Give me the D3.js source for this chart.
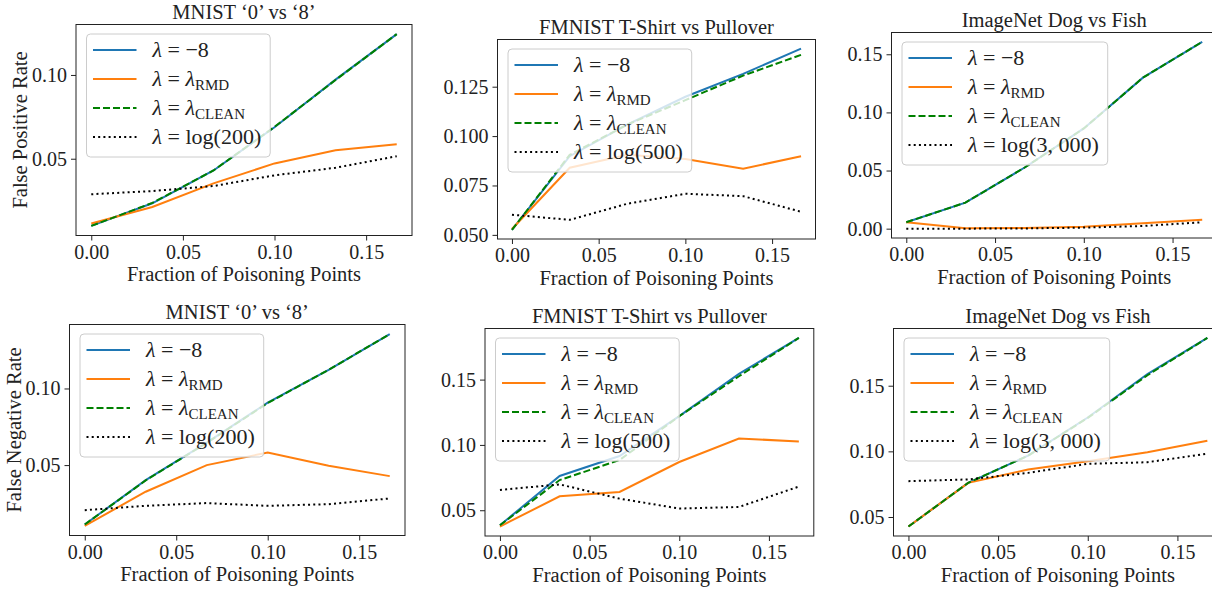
<!DOCTYPE html>
<html>
<head>
<meta charset="utf-8">
<script src="https://cdn.jsdelivr.net/npm/d3@7"></script>
<style>
  body { margin: 0; background: #fff; }
  svg text { font-family: "Liberation Serif", "Times New Roman", serif !important; }
</style>
</head>
<body>
<script>
// x values: fraction of poisoning points
var fractions = [0, 0.0333, 0.0667, 0.1, 0.1333, 0.1667];

// top row: false positive rate
var mnistFprNeg8  = [0.0099, 0.0234, 0.0430, 0.0688, 0.0972, 0.1244];
var mnistFprRmd   = [0.0113, 0.0212, 0.0353, 0.0472, 0.0551, 0.0587];
var mnistFprClean = [0.0099, 0.0236, 0.0430, 0.0690, 0.0970, 0.1244];
var mnistFprLog   = [0.0288, 0.0307, 0.0337, 0.0401, 0.0446, 0.0515];

var fmnistFprNeg8  = [0.0525, 0.0898, 0.1059, 0.1199, 0.1315, 0.1443];
var fmnistFprRmd   = [0.0530, 0.0840, 0.0906, 0.0884, 0.0835, 0.0898];
var fmnistFprClean = [0.0525, 0.0905, 0.1059, 0.1182, 0.1306, 0.1411];
var fmnistFprLog   = [0.0602, 0.0576, 0.0658, 0.0708, 0.0696, 0.0617];

var imagenetFprNeg8  = [0.0055, 0.0224, 0.0526, 0.0862, 0.1299, 0.1607];
var imagenetFprRmd   = [0.0055, 0.0003, 0.0005, 0.0017, 0.0046, 0.0077];
var imagenetFprClean = [0.0055, 0.0224, 0.0526, 0.0862, 0.1299, 0.1607];
var imagenetFprLog   = [0.0000, 0.0000, 0.0002, 0.0009, 0.0023, 0.0055];

// bottom row: false negative rate
var mnistFnrNeg8  = [0.0112, 0.0402, 0.0647, 0.0908, 0.1122, 0.1355];
var mnistFnrRmd   = [0.0103, 0.0326, 0.0500, 0.0582, 0.0496, 0.0428];
var mnistFnrClean = [0.0112, 0.0400, 0.0645, 0.0905, 0.1122, 0.1355];
var mnistFnrLog   = [0.0206, 0.0234, 0.0252, 0.0234, 0.0245, 0.0282];

var fmnistFnrNeg8  = [0.0385, 0.0762, 0.0915, 0.1220, 0.1544, 0.1819];
var fmnistFnrRmd   = [0.0375, 0.0607, 0.0640, 0.0869, 0.1049, 0.1027];
var fmnistFnrClean = [0.0385, 0.0731, 0.0884, 0.1220, 0.1526, 0.1819];
var fmnistFnrLog   = [0.0655, 0.0698, 0.0589, 0.0513, 0.0525, 0.0681];

var imagenetFnrNeg8  = [0.0427, 0.0760, 0.0967, 0.1258, 0.1589, 0.1864];
var imagenetFnrRmd   = [0.0427, 0.0760, 0.0861, 0.0924, 0.0993, 0.1081];
var imagenetFnrClean = [0.0427, 0.0760, 0.0967, 0.1255, 0.1580, 0.1864];
var imagenetFnrLog   = [0.0773, 0.0786, 0.0836, 0.0905, 0.0917, 0.0983];

// tick labels
var xTicks = [0, 0.05, 0.10, 0.15];
var titles = ["MNIST ‘0’ vs ‘8’", "FMNIST T-Shirt vs Pullover", "ImageNet Dog vs Fish"];
var logLabels = ["log(200)", "log(500)", "log(3, 000)"];
var yLabels = ["False Positive Rate", "False Negative Rate"];

var panels = [
  { title: titles[0], ylabel: yLabels[0], log: logLabels[0], yTicks: [0.05, 0.10], fmt: ".2f",
    series: [mnistFprNeg8, mnistFprRmd, mnistFprClean, mnistFprLog] },
  { title: titles[1], ylabel: null, log: logLabels[1], yTicks: [0.050, 0.075, 0.100, 0.125], fmt: ".3f",
    series: [fmnistFprNeg8, fmnistFprRmd, fmnistFprClean, fmnistFprLog] },
  { title: titles[2], ylabel: null, log: logLabels[2], yTicks: [0, 0.05, 0.10, 0.15], fmt: ".2f",
    series: [imagenetFprNeg8, imagenetFprRmd, imagenetFprClean, imagenetFprLog] },
  { title: titles[0], ylabel: yLabels[1], log: logLabels[0], yTicks: [0.05, 0.10], fmt: ".2f",
    series: [mnistFnrNeg8, mnistFnrRmd, mnistFnrClean, mnistFnrLog] },
  { title: titles[1], ylabel: null, log: logLabels[1], yTicks: [0.05, 0.10, 0.15], fmt: ".2f",
    series: [fmnistFnrNeg8, fmnistFnrRmd, fmnistFnrClean, fmnistFnrLog] },
  { title: titles[2], ylabel: null, log: logLabels[2], yTicks: [0.05, 0.10, 0.15], fmt: ".2f",
    series: [imagenetFnrNeg8, imagenetFnrRmd, imagenetFnrClean, imagenetFnrLog] }
];

// axes boxes in page pixels (the right column runs past the picture edge)
var boxes = [
  { x: 76,    y: 24.5,  w: 336,   h: 211 },
  { x: 497.5, y: 39.5,  w: 318,   h: 199.5 },
  { x: 891.5, y: 32.5,  w: 325.5, h: 205.5 },
  { x: 69.5,  y: 324.5, w: 335.5, h: 211 },
  { x: 485,   y: 328.5, w: 328.8, h: 207.5 },
  { x: 893.5, y: 328.5, w: 328.8, h: 207.5 }
];

var styles = [
  { color: "#1f77b4", dash: null },
  { color: "#ff7f0e", dash: null },
  { color: "#008000", dash: "7,3" },
  { color: "#000000", dash: "2,3.2" }
];

var serif = '"Liberation Serif", "Times New Roman", serif';

var svg = d3.select("body").append("svg")
  .attr("width", 1212)
  .attr("height", 590)
  .style("font-family", serif);

panels.forEach(function(p, k) {
  var b = boxes[k];
  var g = svg.append("g").attr("transform", `translate(${b.x},${b.y})`);

  var xMin = d3.min(fractions), xMax = d3.max(fractions);
  var xPad = (xMax - xMin) * 0.05;
  var x = d3.scaleLinear().domain([xMin - xPad, xMax + xPad]).range([0, b.w]);

  var all = d3.merge(p.series);
  var yMin = d3.min(all), yMax = d3.max(all);
  var yPad = (yMax - yMin) * 0.05;
  var y = d3.scaleLinear().domain([yMin - yPad, yMax + yPad]).range([b.h, 0]);

  var line = d3.line()
    .x(function(d, i) { return x(fractions[i]); })
    .y(function(d) { return y(d); });

  p.series.forEach(function(s, i) {
    g.append("path")
      .attr("d", line(s))
      .attr("fill", "none")
      .attr("stroke", styles[i].color)
      .attr("stroke-width", 2)
      .attr("stroke-dasharray", styles[i].dash);
  });

  // axes
  var xAxis = g.append("g")
    .attr("transform", `translate(0,${b.h})`)
    .call(d3.axisBottom(x).tickValues(xTicks).tickFormat(d3.format(".2f")).tickSizeOuter(0).tickSize(5).tickPadding(4));
  var yAxis = g.append("g")
    .call(d3.axisLeft(y).tickValues(p.yTicks).tickFormat(d3.format(p.fmt)).tickSizeOuter(0).tickSize(5).tickPadding(4));
  [xAxis, yAxis].forEach(function(a) {
    a.select(".domain").remove();
    a.attr("font-size", null).attr("font-family", null);
    a.selectAll("line").attr("stroke", "#222");
    a.selectAll("text").attr("fill", "#222")
      .style("font-family", serif).style("font-size", "20px");
  });

  g.append("rect")
    .attr("width", b.w).attr("height", b.h)
    .attr("fill", "none").attr("stroke", "#222").attr("stroke-width", 1);

  // title and labels
  g.append("text")
    .attr("x", b.w / 2).attr("y", -5.5)
    .attr("text-anchor", "middle")
    .style("font-family", serif).style("font-size", "20.5px").attr("fill", "#222")
    .text(p.title);

  g.append("text")
    .attr("x", b.w / 2).attr("y", b.h + 45.5)
    .attr("text-anchor", "middle")
    .style("font-family", serif).style("font-size", "20.5px").attr("fill", "#222")
    .text("Fraction of Poisoning Points");

  if (p.ylabel) {
    g.append("text")
      .attr("transform", `translate(-49,${b.h / 2}) rotate(-90)`)
      .attr("text-anchor", "middle")
      .style("font-family", serif).style("font-size", "20.5px").attr("fill", "#222")
      .text(p.ylabel);
  }

  // legend
  var labels = [
    [["λ", "i"], [" = −8", ""]],
    [["λ", "i"], [" = ", ""], ["λ", "i"], ["RMD", "s"]],
    [["λ", "i"], [" = ", ""], ["λ", "i"], ["CLEAN", "s"]],
    [["λ", "i"], [" = " + p.log, ""]]
  ];
  var lg = g.append("g").attr("transform", "translate(10.5,9.5)");
  var frame = lg.append("rect")
    .attr("rx", 4).attr("ry", 4)
    .attr("fill", "#fff").attr("fill-opacity", 0.8)
    .attr("stroke", "#ccc").attr("stroke-width", 1)
    .attr("height", 123);
  var maxW = 0;
  labels.forEach(function(parts, i) {
    var cy = 16 + i * 29;
    lg.append("line")
      .attr("x1", 6.5).attr("x2", 50).attr("y1", cy).attr("y2", cy)
      .attr("stroke", styles[i].color).attr("stroke-width", 2)
      .attr("stroke-dasharray", styles[i].dash);
    var t = lg.append("text")
      .attr("x", 66).attr("y", cy + 7)
      .style("font-family", serif).style("font-size", "22px").attr("fill", "#222");
    parts.forEach(function(pt) {
      var ts = t.append("tspan").text(pt[0]);
      if (pt[1] === "i") ts.style("font-style", "italic");
      if (pt[1] === "s") ts.style("font-size", "15px").attr("dy", 4);
    });
    maxW = Math.max(maxW, t.node().getComputedTextLength());
  });
  frame.attr("width", 66 + maxW + 9);
});
</script>
</body>
</html>
